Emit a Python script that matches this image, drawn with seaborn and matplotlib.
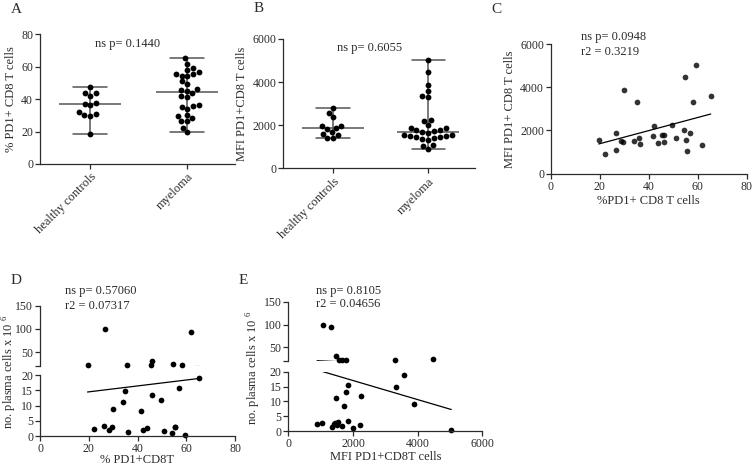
import matplotlib

matplotlib.use("Agg")
import matplotlib.pyplot as plt
import numpy as np
import pandas as pd
import seaborn as sns

sns.set_style("ticks")
plt.rcParams["font.family"] = ["Liberation Serif", "DejaVu Serif"]
plt.rcParams["mathtext.fontset"] = "custom"
plt.rcParams["mathtext.rm"] = "Liberation Serif"

INK = "#2b2b2b"
W, H = 755, 465

# healthy controls (panels A and B)
healthy_pd1 = [47.4, 43.7, 42.3, 43.7, 37.9, 36.3, 37.3, 32.4, 30.3, 29.9, 30.7, 18.6]
healthy_mfi = [2810, 2570, 2370, 1980, 1890, 1820, 1980, 1670, 1560, 1610, 1390, 1390]

# myeloma patients, same order in every panel
myeloma_pd1 = [19.5, 22.0, 26.4, 26.7, 28.5, 29.5, 30.0, 34.0, 35.0, 35.8, 36.3, 41.6, 42.1, 43.8,
               45.4, 46.0, 46.1, 49.6, 51.0, 54.3, 54.6, 55.3, 55.4, 57.0, 58.2, 59.4, 61.9, 65.3]
myeloma_mfi = [1560, 890, 1860, 1080, 1520, 1450, 3880, 1490, 3340, 1660, 1360, 1730, 2210, 1400,
               1790, 1770, 1480, 2260, 1670, 2010, 4490, 1540, 1050, 1860, 3300, 5040, 1330, 3590]
plasma_cells = [23.0, 2.3, 3.4, 100.0, 2.0, 2.8, 9.0, 11.0, 14.9, 23.0, 1.2, 8.3, 2.0, 2.5,
                22.0, 13.3, 31.0, 11.7, 1.6, 0.9, 25.0, 3.0, 2.8, 15.6, 23.0, 0.2, 94.0, 18.9]

group_names = ["healthy controls", "myeloma"]
stats_a = "ns p= 0.1440"
stats_b = "ns p= 0.6055"
stats_c = ["ns p= 0.0948", "r2 = 0.3219"]
stats_d = ["ns p= 0.57060", "r2 = 0.07317"]
stats_e = ["ns p= 0.8105", "r2 = 0.04656"]
plasma_label = "no. plasma cells x 10 $^{6}$"


def add_axes(fig, left, top, right, bottom):
    """axes from pixel edges"""
    return fig.add_axes([left / W, 1 - bottom / H, (right - left) / W, (bottom - top) / H])


def style_axes(ax):
    sns.despine(ax=ax)
    for s in ("left", "bottom"):
        ax.spines[s].set_color(INK)
        ax.spines[s].set_linewidth(0.9)
    ax.tick_params(length=3.5, width=0.9, color=INK, labelsize=8.5, labelcolor=INK, pad=1.5)


def dot_plot(ax, healthy, myeloma, ylabel, ylim, yticks, stat):
    """median + range with the individual points"""
    df = pd.DataFrame(
        {
            "group": [group_names[0]] * len(healthy) + [group_names[1]] * len(myeloma),
            "value": healthy + myeloma,
        }
    )
    sns.pointplot(
        data=df, x="group", y="value", order=group_names, estimator="median",
        errorbar=("pi", 100), capsize=0.35, color="#555555", markers="_",
        markersize=45, markeredgewidth=1.1, linestyles="none",
        err_kws={"linewidth": 1.1}, ax=ax,
    )
    sns.swarmplot(data=df, x="group", y="value", order=group_names,
                  color="black", size=4.2, ax=ax, zorder=3)
    style_axes(ax)
    ax.set_xlim(-0.52, 1.49)
    ax.set_ylim(*ylim)
    ax.set_yticks(yticks)
    ax.set_xticks([0, 1])
    ax.set_xticklabels(group_names, rotation=45, ha="right", rotation_mode="anchor", fontsize=9)
    ax.set_xlabel("")
    ax.set_ylabel(ylabel, fontsize=9, color=INK, labelpad=3)
    ax.text(0.45, 0.93, stat, transform=ax.transAxes, ha="center", va="center", fontsize=9, color=INK)


def scatter_plot(ax, x, y, xlabel, ylabel):
    sns.regplot(x=x, y=y, ci=None, ax=ax,
                scatter_kws={"s": 17, "color": "black", "linewidths": 0},
                line_kws={"color": "black", "linewidth": 0.9})
    style_axes(ax)
    ax.set_xlim(0, 80)
    ax.set_ylim(0, 6000)
    ax.set_xticks([0, 20, 40, 60, 80])
    ax.set_yticks([0, 2000, 4000, 6000])
    ax.set_xlabel(xlabel, fontsize=9, color=INK, labelpad=2)
    ax.set_ylabel(ylabel, fontsize=9, color=INK, labelpad=3)
    ax.text(0.153, 1.052, stats_c[0], transform=ax.transAxes, va="center", fontsize=9, color=INK)
    ax.text(0.153, 0.936, stats_c[1], transform=ax.transAxes, va="center", fontsize=9, color=INK)


def broken_plot(fig, box, x, y, xlim, xticks, xlabel, xpad, stats, text_y):
    """scatter with a y axis broken at 20"""
    left, right, top_hi, bottom_hi, top_lo, bottom_lo = box
    ax_hi = add_axes(fig, left, top_hi, right, bottom_hi)
    ax_lo = add_axes(fig, left, top_lo, right, bottom_lo)
    df = pd.DataFrame({"x": x, "y": y})
    # the fit is drawn in both parts, each one clips it
    for ax in (ax_hi, ax_lo):
        sns.regplot(data=df, x="x", y="y", scatter=False, ci=None, ax=ax,
                    line_kws={"color": "black", "linewidth": 0.9})
    sns.scatterplot(data=df[df.y > 20], x="x", y="y", ax=ax_hi, color="black",
                    s=17, linewidth=0, clip_on=False)
    sns.scatterplot(data=df[df.y <= 20], x="x", y="y", ax=ax_lo, color="black",
                    s=17, linewidth=0, clip_on=False)
    for ax in (ax_hi, ax_lo):
        style_axes(ax)
        ax.set_xlim(*xlim)
        ax.set_xlabel("")
        ax.set_ylabel("")
    ax_hi.set_ylim(20, 150)
    ax_hi.set_yticks([20, 50, 100, 150])
    ax_hi.set_yticklabels(["", "50", "100", "150"])
    ax_hi.spines["bottom"].set_visible(False)
    ax_hi.tick_params(axis="x", bottom=False, labelbottom=False)
    ax_lo.set_ylim(0, 20)
    ax_lo.set_yticks([0, 5, 10, 15, 20])
    ax_lo.set_xticks(xticks)
    ax_lo.set_xlabel(xlabel, fontsize=9, color=INK, labelpad=xpad)
    ax_hi.text(text_y[0], text_y[1], stats[0], transform=ax_hi.transAxes, va="center", fontsize=9, color=INK)
    ax_hi.text(text_y[0], text_y[2], stats[1], transform=ax_hi.transAxes, va="center", fontsize=9, color=INK)
    return ax_hi, ax_lo


fig = plt.figure(figsize=(7.55, 4.65), dpi=100)

# A - % PD1+ CD8 T cells
ax_a = add_axes(fig, 40, 34.5, 235, 164)
dot_plot(ax_a, healthy_pd1, myeloma_pd1, "% PD1+ CD8 T cells", (0, 80), [0, 20, 40, 60, 80], stats_a)

# B - MFI
ax_b = add_axes(fig, 283.3, 39, 475, 168.5)
dot_plot(ax_b, healthy_mfi, myeloma_mfi, "MFI PD1+CD8 T cells", (0, 6000), [0, 2000, 4000, 6000], stats_b)

# C - MFI vs %PD1
ax_c = add_axes(fig, 551, 44, 746.7, 173.7)
scatter_plot(ax_c, myeloma_pd1, myeloma_mfi, "%PD1+ CD8 T cells", "MFI PD1+ CD8 T cells")

# D - plasma cells vs %PD1
broken_plot(fig, (40, 235, 305.7, 366, 375, 436), myeloma_pd1, plasma_cells, (0, 80),
            [0, 20, 40, 60, 80], "% PD1+CD8T", -0.5, stats_d, (0.128, 1.249, 1.002))
fig.text(9.5 / W, 1 - 372 / H, plasma_label, rotation=90, ha="center", va="center", fontsize=9, color=INK)

# E - plasma cells vs MFI
broken_plot(fig, (288.3, 482.3, 301.7, 361, 371.7, 431), myeloma_mfi, plasma_cells, (0, 6000),
            [0, 2000, 4000, 6000], "MFI PD1+CD8T cells", 1, stats_e, (0.141, 1.186, 0.956))
fig.text(254 / W, 1 - 368 / H, plasma_label, rotation=90, ha="center", va="center", fontsize=9, color=INK)

# panel letters
for letter, px, py in [("A", 16.7, 9.3), ("B", 258.3, 8.3), ("C", 496, 9.3), ("D", 16, 280.7), ("E", 243.3, 280.7)]:
    fig.text(px / W, 1 - py / H, letter, ha="center", va="center", fontsize=11, color=INK)

fig.savefig("out.png", dpi=100)
